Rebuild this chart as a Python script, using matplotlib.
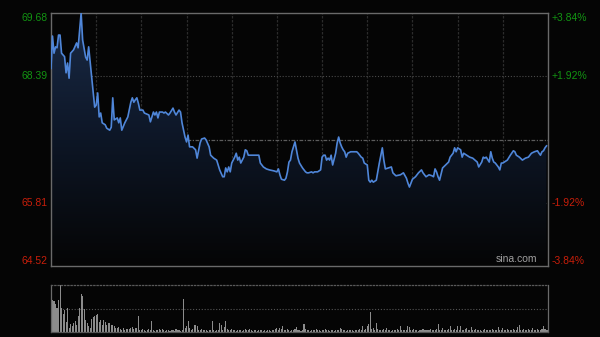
import matplotlib
matplotlib.use("Agg")
import matplotlib.pyplot as plt
import numpy as np
from matplotlib.colors import LinearSegmentedColormap
from matplotlib.patches import PathPatch

# ---------------- data ----------------
minutes = [0, 1, 2, 3, 4, 5, 6, 7, 9, 10, 11, 12, 13, 15, 17, 18, 20, 21, 23, 24,
           25, 27, 29, 30, 31, 32, 33, 34, 36, 37, 39, 40, 41, 42, 44, 45, 46, 47, 49, 51,
           53, 54, 55, 56, 57, 58, 59, 61, 62, 65, 66, 68, 69, 70, 71, 72, 74, 75, 76, 78,
           79, 81, 82, 83, 85, 86, 87, 88, 89, 90, 91, 92, 94, 96, 97, 99, 100, 102, 103, 105,
           106, 108, 110, 111, 112, 114, 115, 116, 117, 118, 119, 120, 121, 122, 123, 124, 125, 126, 128, 129,
           130, 131, 133, 137, 138, 139, 141, 143, 145, 148, 150, 151, 152, 153, 155, 156, 157, 158, 159, 160,
           162, 163, 164, 165, 167, 169, 170, 171, 173, 174, 175, 177, 179, 180, 181, 182, 183, 184, 185, 186,
           187, 189, 190, 191, 192, 193, 194, 195, 196, 197, 199, 201, 203, 204, 206, 207, 208, 210, 211, 212,
           213, 214, 216, 218, 220, 221, 222, 224, 226, 227, 229, 232, 234, 236, 237, 238, 240, 242, 244, 246,
           247, 249, 251, 253, 254, 255, 256, 257, 258, 260, 262, 264, 265, 267, 268, 269, 270, 272, 273, 274,
           276, 278, 280, 283, 284, 286, 287, 288, 289, 291, 292, 293, 294, 295, 297, 298, 299, 300, 303, 305,
           307, 308, 309, 311, 313, 315, 317, 319, 321, 323, 324, 325, 326, 327, 328, 329]

prices = [68.55, 69.21, 68.86, 68.99, 68.97, 69.23, 69.23, 68.86, 68.79, 68.46, 68.66, 68.35, 68.86, 68.93, 69.07, 68.97, 69.68, 69.13, 68.78, 68.72,
          68.99, 68.37, 67.76, 67.80, 68.05, 67.56, 67.64, 67.44, 67.40, 67.33, 67.29, 67.35, 67.95, 67.50, 67.54, 67.44, 67.54, 67.29, 67.44, 67.56,
          67.86, 67.95, 67.86, 67.91, 67.95, 67.84, 67.70, 67.70, 67.64, 67.60, 67.46, 67.66, 67.60, 67.66, 67.54, 67.66, 67.66, 67.64, 67.66, 67.60,
          67.64, 67.74, 67.66, 67.60, 67.70, 67.66, 67.44, 67.29, 67.15, 67.05, 67.19, 66.95, 66.95, 66.89, 66.72, 67.03, 67.11, 67.13, 67.09, 66.95,
          66.78, 66.72, 66.68, 66.58, 66.48, 66.34, 66.34, 66.52, 66.44, 66.54, 66.44, 66.62, 66.68, 66.74, 66.82, 66.68, 66.74, 66.62, 66.74, 66.89,
          66.87, 66.78, 66.78, 66.78, 66.78, 66.62, 66.54, 66.50, 66.48, 66.46, 66.44, 66.50, 66.38, 66.29, 66.27, 66.31, 66.44, 66.64, 66.68, 66.85,
          67.05, 66.89, 66.72, 66.62, 66.52, 66.44, 66.42, 66.42, 66.44, 66.42, 66.44, 66.44, 66.48, 66.74, 66.78, 66.78, 66.68, 66.72, 66.68, 66.78,
          66.58, 66.82, 67.03, 67.15, 67.03, 66.95, 66.89, 66.85, 66.74, 66.82, 66.85, 66.85, 66.85, 66.82, 66.74, 66.72, 66.62, 66.58, 66.27, 66.23,
          66.27, 66.23, 66.27, 66.62, 66.93, 66.68, 66.50, 66.52, 66.54, 66.42, 66.36, 66.38, 66.42, 66.31, 66.21, 66.13, 66.29, 66.34, 66.42, 66.48,
          66.42, 66.34, 66.38, 66.36, 66.34, 66.50, 66.44, 66.34, 66.27, 66.52, 66.58, 66.64, 66.74, 66.82, 66.93, 66.85, 66.93, 66.89, 66.74, 66.82,
          66.78, 66.74, 66.72, 66.64, 66.54, 66.64, 66.74, 66.72, 66.74, 66.64, 66.85, 66.72, 66.64, 66.62, 66.54, 66.48, 66.62, 66.62, 66.68, 66.78,
          66.87, 66.85, 66.78, 66.74, 66.68, 66.72, 66.74, 66.82, 66.85, 66.87, 66.82, 66.78, 66.85, 66.87, 66.93, 66.97]

volumes = [32, 32, 31, 28, 24, 32, 47, 24, 18, 22, 10, 24, 4, 8, 6, 9, 11, 7, 16, 24,
           38, 36, 23, 12, 9, 6, 4, 13, 15, 16, 17, 18, 10, 12, 7, 12, 10, 7, 9, 9,
           7, 7, 6, 4, 4, 5, 3, 2, 4, 2, 3, 3, 3, 4, 5, 3, 4, 4, 16, 2,
           2, 3, 2, 1, 2, 3, 2, 11, 2, 1, 2, 2, 3, 2, 3, 2, 1, 2, 2, 1,
           2, 2, 1, 3, 2, 2, 1, 2, 33, 4, 6, 11, 4, 2, 3, 7, 7, 6, 2, 2,
           3, 2, 2, 2, 1, 2, 2, 11, 2, 1, 2, 2, 9, 7, 2, 5, 11, 3, 2, 2,
           3, 2, 2, 1, 2, 2, 2, 1, 2, 3, 2, 2, 3, 2, 1, 2, 2, 1, 2, 2,
           2, 1, 2, 1, 2, 2, 1, 2, 2, 3, 4, 2, 4, 3, 6, 2, 2, 3, 2, 1,
           2, 2, 3, 5, 2, 2, 1, 2, 8, 3, 2, 2, 1, 2, 2, 2, 3, 2, 2, 1,
           2, 2, 3, 2, 2, 1, 2, 2, 1, 2, 2, 2, 4, 3, 2, 2, 1, 2, 2, 2,
           2, 1, 2, 2, 2, 3, 2, 6, 2, 3, 6, 8, 20, 3, 4, 2, 9, 3, 2, 2,
           2, 3, 2, 4, 2, 2, 1, 2, 2, 2, 3, 2, 6, 2, 2, 2, 2, 6, 5, 2,
           2, 3, 2, 2, 1, 2, 2, 3, 2, 2, 2, 2, 3, 2, 2, 2, 3, 8, 2, 2,
           4, 2, 2, 2, 3, 6, 2, 2, 3, 2, 6, 2, 6, 2, 2, 3, 4, 2, 2, 5,
           2, 2, 3, 2, 2, 2, 1, 2, 3, 2, 2, 2, 2, 3, 2, 2, 2, 5, 2, 2,
           4, 2, 2, 3, 2, 2, 2, 3, 2, 2, 5, 7, 2, 2, 3, 2, 2, 3, 2, 2,
           4, 2, 2, 3, 2, 2, 3, 6, 3, 2, 2]

prev_close = 67.10
price_ticks = [69.68, 68.39, 65.81, 64.52]
pct_labels = ["+3.84%", "+1.92%", "-1.92%", "-3.84%"]
session_minutes = 330
grid_minutes = [30, 60, 90, 120, 150, 180, 210, 240, 270, 300]

# ---------------- styling ----------------
BG = "#050505"
LINE = "#4f86d9"
GREEN = "#129412"
RED = "#c81e0a"
plt.rcParams["font.family"] = ["Liberation Sans", "DejaVu Sans"]

W, H = 600, 337
fig = plt.figure(figsize=(W / 100, H / 100), dpi=100, facecolor=BG)

# ---------- price panel ----------
ax = fig.add_axes([51 / W, 1 - 266 / H, 497 / W, 253 / H])
ax.set_facecolor(BG)
ymin, ymax = min(price_ticks), max(price_ticks)

for m in grid_minutes:
    ax.axvline(m, color="#2c2c2c", lw=0.9, ls=(0, (2, 1.2)), zorder=0.5)
for p in (price_ticks[1], price_ticks[2]):
    ax.axhline(p, color="#4a4a4a", lw=0.8, ls=(0, (1, 1.6)), zorder=0.6)
ax.axhline(prev_close, color="#5c5c5c", lw=0.9, ls=(0, (3, 1.2, 1, 1.2)), zorder=0.6)

poly = ax.fill_between(minutes, prices, ymin, color="none", lw=0)
path = poly.get_paths()[0]
clip = PathPatch(path, facecolor="none", edgecolor="none", transform=ax.transData)
ax.add_patch(clip)
cmap = LinearSegmentedColormap.from_list("g", [BG, "#0d1626", "#1a2b47"])
grad = np.linspace(1, 0, 256).reshape(-1, 1)
im = ax.imshow(grad, extent=[0, session_minutes, ymin, ymax], aspect="auto",
               cmap=cmap, origin="upper", zorder=1, interpolation="bilinear")
im.set_clip_path(clip)

ax.plot(minutes, prices, color=LINE, lw=1.2, zorder=3, solid_joinstyle="round")

ax.set_xlim(0, session_minutes)
ax.set_ylim(ymin, ymax)
ax.set_xticks([])
ax.set_yticks([])
for s in ax.spines.values():
    s.set_color("#6a6a6a")
    s.set_linewidth(1.0)

ytr = ax.get_yaxis_transform()
vas = ["top", "center", "center", "bottom"]
cols = [GREEN, GREEN, RED, RED]
for p, lab, va, c in zip(price_ticks, pct_labels, vas, cols):
    ax.text(-0.007, p, f"{p:.2f}", transform=ytr, ha="right", va=va,
            color=c, fontsize=7.5)
    ax.text(1.008, p, lab, transform=ytr, ha="left", va=va,
            color=c, fontsize=7.5)

ax.text(0.978, 0.008, "sina.com", transform=ax.transAxes, ha="right", va="bottom",
        color="#a0a0a0", fontsize=7.5, zorder=4)

# ---------- volume panel ----------
ax2 = fig.add_axes([51 / W, 1 - 332 / H, 497 / W, 47 / H])
ax2.set_facecolor(BG)
vol_minutes = list(range(len(volumes)))
ax2.bar(vol_minutes, volumes, width=0.7, color="#8c8c8c", lw=0, zorder=2)
vmax = max(volumes)
ax2.set_xlim(0, session_minutes)
ax2.set_ylim(0, vmax)
ax2.axhline(vmax / 2, color="#555555", lw=0.8, ls=(0, (1, 1.6)), zorder=1)
ax2.set_xticks([])
ax2.set_yticks([])
ax2.spines["left"].set_color("#6a6a6a")
ax2.spines["right"].set_color("#6a6a6a")
ax2.spines["bottom"].set_color("#555555")
ax2.spines["top"].set_color("#5a5a5a")
ax2.spines["top"].set_linestyle((0, (1, 1.6)))
for s in ax2.spines.values():
    s.set_linewidth(0.9)

fig.savefig("out.png", dpi=100, facecolor=BG)
